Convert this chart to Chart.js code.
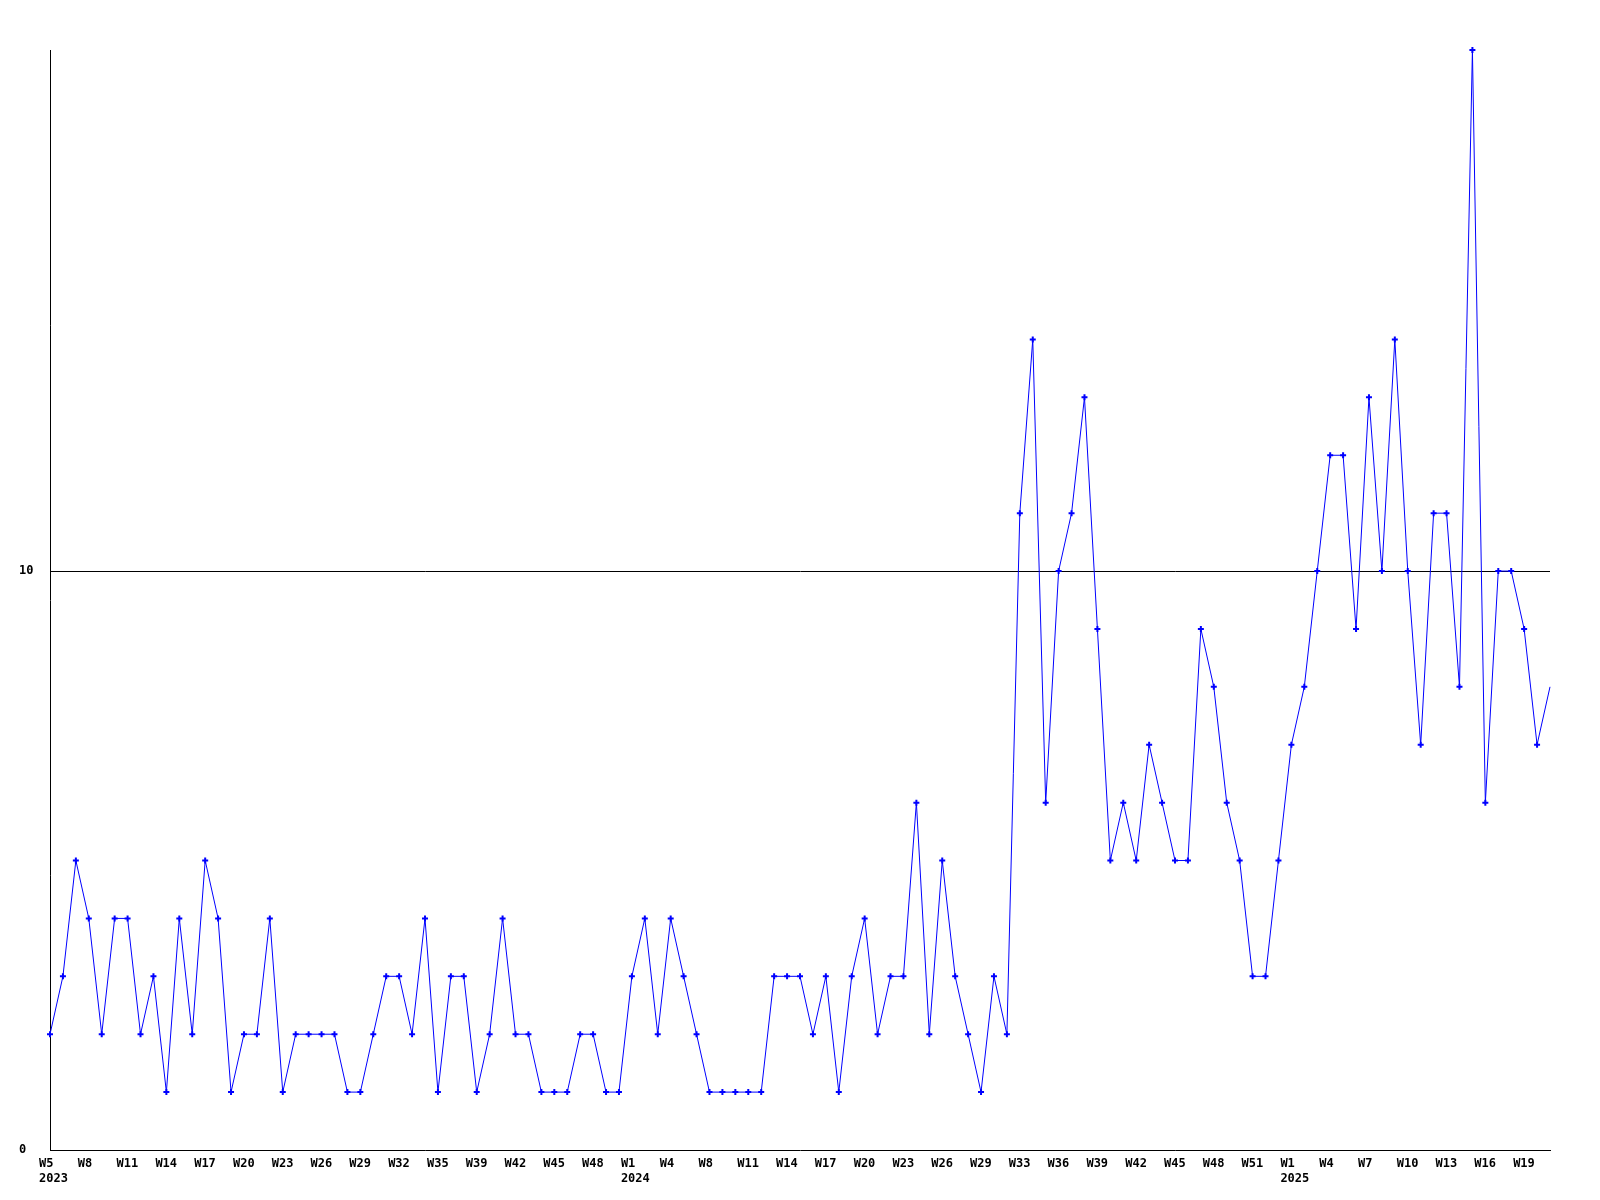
<!DOCTYPE html>
<html>
<head>
<meta charset="utf-8">
<script src="https://cdn.jsdelivr.net/npm/chart.js@4/dist/chart.umd.min.js"></script>
<style>
  html, body { margin: 0; padding: 0; background: #ffffff; }
  #wrap { width: 1600px; height: 1200px; }
</style>
</head>
<body>
<div id="wrap"><canvas id="c" width="1600" height="1200"></canvas></div>
<script>
// Week categories (one per data point)
const weeks = [
  "W5","W6","W7","W8","W9","W10","W11","W12","W13","W14","W15","W16","W17","W18","W19","W20",
  "W21","W22","W23","W24","W25","W26","W27","W28","W29","W30","W31","W32","W33","W34","W35",
  "W36","W38",
  "W39","W40","W41","W42","W43","W44","W45","W46","W47","W48",
  "W50","W52",
  "W1","W2","W3","W4","W5","W6",
  "W8","W9","W10","W11","W12","W13","W14","W15","W16","W17","W18","W19","W20","W21","W22",
  "W23","W24","W25","W26","W27","W28","W29","W30","W31",
  "W33","W34","W35","W36","W37","W38","W39","W40","W41","W42","W43","W44","W45","W46","W47",
  "W48","W49","W50","W51","W52","W53",
  "W1","W2","W3","W4","W5","W6","W7","W8","W9","W10","W11","W12","W13","W14","W15","W16",
  "W17","W18","W19","W20","W21"
];
// Year shown under the first week of each year
const yearIndex = [0, 45, 96];
const yearLabels = ["2023", "2024", "2025"];

// Weekly counts
const counts = [
  2,3,5,4,2,4,4,2,3,1,4,2,5,4,1,2,2,4,1,2,2,2,2,1,1,2,3,3,2,4,1,3,3,1,2,4,2,2,1,1,
  1,2,2,1,1,3,4,2,4,3,2,1,1,1,1,1,3,3,3,2,3,1,3,4,2,3,3,6,2,5,3,2,1,3,2,11,14,6,10,11,
  13,9,5,6,5,7,6,5,5,9,8,6,5,3,3,5,7,8,10,12,12,9,13,10,14,10,7,11,11,8,19,6,10,10,9,7,8
];

// Y axis
const yMin = 0;
const yMax = 19;
const yTicks = [0, 10];
const labelEvery = 3;

const MONO = "'DejaVu Sans Mono', 'Liberation Mono', monospace";
const lastIdx = counts.length - 1;

new Chart(document.getElementById('c'), {
  type: 'line',
  data: {
    labels: weeks,
    datasets: [{
      data: counts,
      borderColor: '#0000ff',
      backgroundColor: '#0000ff',
      borderWidth: 1,
      tension: 0,
      fill: false,
      clip: false,
      pointStyle: 'cross',
      pointRadius: (ctx) => ctx.dataIndex === lastIdx ? 0 : 3,
      pointBorderWidth: 2,
      pointBorderColor: '#0000ff',
      pointBackgroundColor: '#0000ff'
    }]
  },
  options: {
    responsive: false,
    animation: false,
    devicePixelRatio: 1,
    layout: { padding: { left: 19, top: 50, right: 50, bottom: 0 } },
    plugins: {
      legend: { display: false },
      tooltip: { enabled: false },
      title: { display: false }
    },
    scales: {
      x: {
        type: 'category',
        offset: false,
        grid: { display: false, drawTicks: false },
        border: { display: true, color: '#000000', width: 1 },
        ticks: {
          autoSkip: false,
          maxRotation: 0,
          minRotation: 0,
          align: 'start',
          labelOffset: -11,
          padding: 6,
          color: '#000000',
          font: { family: MONO, size: 12, weight: 'bold', lineHeight: 1.25 },
          callback: function (value, index) {
            if (index % labelEvery !== 0) return null;
            const yi = yearIndex.indexOf(index);
            const w = weeks[index];
            return yi >= 0 ? [w, yearLabels[yi]] : w;
          }
        },
        afterFit: (scale) => { scale.height = 50; }
      },
      y: {
        type: 'linear',
        min: yMin,
        max: yMax,
        grid: {
          drawTicks: false,
          color: (ctx) => (ctx.tick && ctx.tick.value === 10) ? '#000000' : 'rgba(0,0,0,0)',
          lineWidth: 1
        },
        border: { display: true, color: '#000000', width: 1 },
        ticks: {
          crossAlign: 'far',
          padding: 0,
          color: '#000000',
          font: { family: MONO, size: 12, weight: 'bold' }
        },
        afterBuildTicks: (scale) => { scale.ticks = yTicks.map(v => ({ value: v })); },
        afterFit: (scale) => { scale.width = 31; }
      }
    }
  }
});
</script>
</body>
</html>
